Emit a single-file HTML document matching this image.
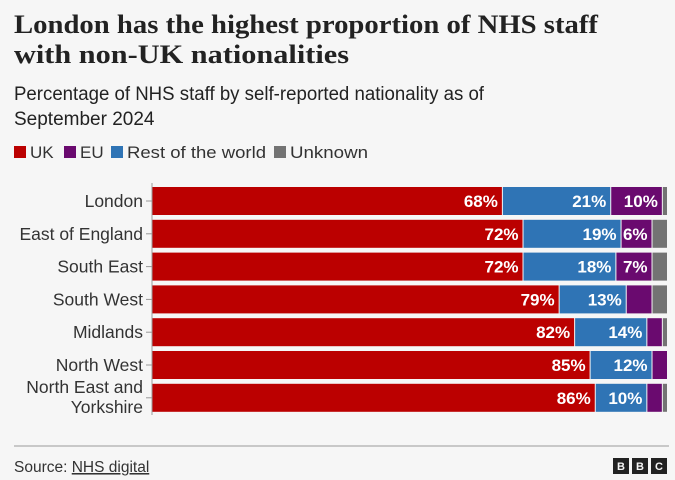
<!DOCTYPE html>
<html><head><meta charset="utf-8"><style>
body{margin:0;background:#f6f6f6;font-family:"Liberation Sans",sans-serif;}
svg{display:block}
</style></head><body>
<svg width="675" height="480">
<rect width="675" height="480" fill="#f6f6f6"/>
<text x="14" y="33" font-family="Liberation Serif, serif" font-size="26" font-weight="bold" fill="#222" textLength="584" lengthAdjust="spacingAndGlyphs">London has the highest proportion of NHS staff</text>
<text x="14" y="63" font-family="Liberation Serif, serif" font-size="26" font-weight="bold" fill="#222" textLength="335" lengthAdjust="spacingAndGlyphs">with non-UK nationalities</text>
<text x="14" y="100" font-size="19" fill="#222" textLength="470" lengthAdjust="spacingAndGlyphs">Percentage of NHS staff by self-reported nationality as of</text>
<text x="14" y="125" font-size="19" fill="#222">September 2024</text>
<g id="legend" font-size="17" fill="#333">
<rect x="14" y="146" width="12" height="12" fill="#bb0000"/><text x="30" y="158">UK</text>
<rect x="64" y="146" width="12" height="12" fill="#6a0a6f"/><text x="80" y="158">EU</text>
<rect x="111" y="146" width="12" height="12" fill="#2f74b5"/><text x="127" y="158" textLength="139" lengthAdjust="spacingAndGlyphs">Rest of the world</text>
<rect x="274" y="146" width="12" height="12" fill="#737373"/><text x="290" y="158" textLength="78" lengthAdjust="spacingAndGlyphs">Unknown</text>
</g>
<g id="plot"></g>
<line x1="14" y1="446" x2="669" y2="446" stroke="#999"/>
<text x="14" y="472" font-size="15.5" fill="#333">Source: <tspan text-decoration="underline">NHS digital</tspan></text>
<g font-size="11" font-weight="bold" fill="#f6f6f6">
<rect x="613" y="458" width="16" height="16" fill="#222"/><text x="621" y="470" text-anchor="middle">B</text>
<rect x="632" y="458" width="16" height="16" fill="#222"/><text x="640" y="470" text-anchor="middle">B</text>
<rect x="651" y="458" width="16" height="16" fill="#222"/><text x="659" y="470" text-anchor="middle">C</text>
</g>
</svg>
<script>
const regions=["London","East of England","South East","South West","Midlands","North West","North East and Yorkshire"];
const uk=[68,72,72,79,82,85,86];
const row=[21,19,18,13,14,12,10];
const eu=[10,6,7,5,3,3,3];
const unknown=[1,3,3,3,1,0,1];
const NS="http://www.w3.org/2000/svg";
const x0=152,x1=668,yTop=185,step=32.8,bh=28;
const xs=v=>x0+v/100*(x1-x0);
const g=document.getElementById('plot');
function mk(t,a){const e=document.createElementNS(NS,t);for(const k in a)e.setAttribute(k,a[k]);g.appendChild(e);return e;}
const series=[{v:uk,c:"#bb0000",n:"uk"},{v:row,c:"#2f74b5",n:"row"},{v:eu,c:"#6a0a6f",n:"eu"},{v:unknown,c:"#737373",n:"unknown"}];
regions.forEach((r,i)=>{
  const y=yTop+i*step+2;
  let cum=0;
  series.forEach(s=>{
    const v=s.v[i];
    if(v>0){
      const rc=mk('rect',{x:xs(cum),y:y,width:Math.max(0,xs(cum+v)-xs(cum)-1),height:bh,fill:s.c});
      
      
      if(v>=6){
        const t=mk('text',{x:xs(cum+v)-5,y:y+bh/2+6,'text-anchor':'end','font-size':17,'font-weight':'bold',fill:'#fff'});
        t.textContent=v+'%';
        
        
      }
    }
    cum+=v;
  });
  const lines=r==="North East and Yorkshire"?["North East and","Yorkshire"]:[r];
  lines.forEach((l,j)=>{
    const t=mk('text',{x:143,y:y+bh/2+6+(lines.length>1?(j-0.5)*20-1:0),'text-anchor':'end','font-size':17.5,fill:'#333'});
    t.textContent=l;
    
    
  });
  const tk=mk('line',{x1:146,x2:152,y1:y+bh/2,y2:y+bh/2,stroke:'#999'});
  
  
});
const ax=mk('line',{x1:152,x2:152,y1:183,y2:415,stroke:'#999'});


</script>
</body></html>
